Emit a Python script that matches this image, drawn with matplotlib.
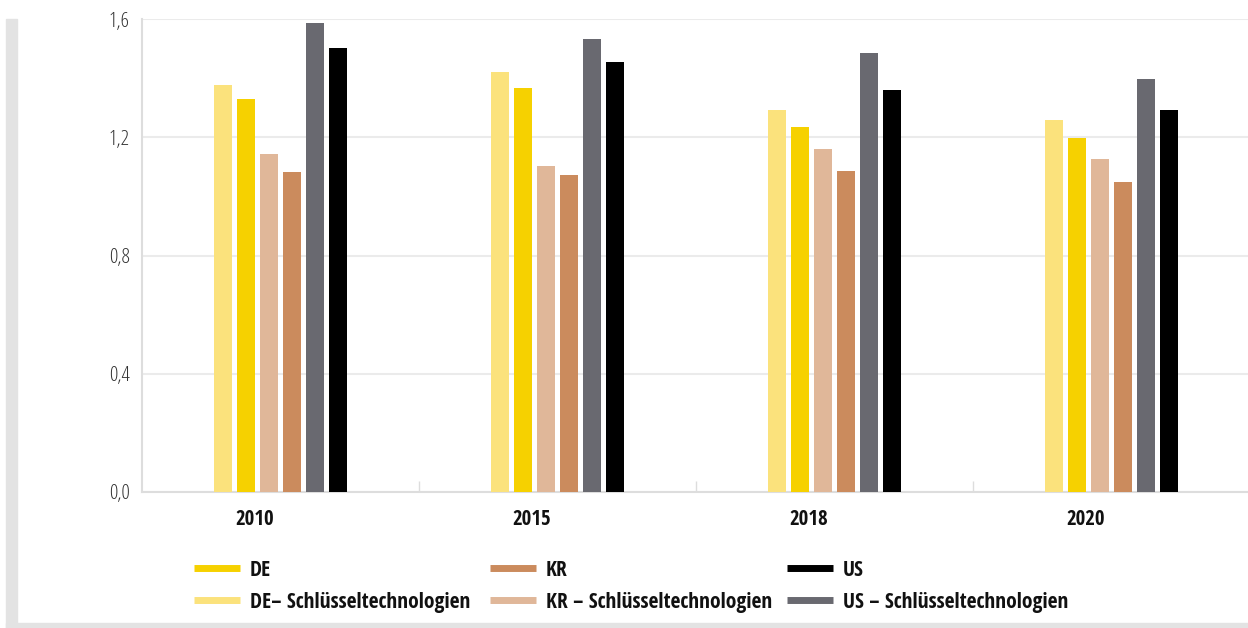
import matplotlib
matplotlib.use("Agg")
import matplotlib.pyplot as plt
import matplotlib.transforms as mtransforms
from matplotlib.lines import Line2D
from matplotlib.patches import Rectangle
import numpy as np

# Daten
years = ["2010", "2015", "2018", "2020"]
series = ["DE– Schlüsseltechnologien", "DE", "KR – Schlüsseltechnologien", "KR",
          "US – Schlüsseltechnologien", "US"]
de_key = [1.377, 1.421, 1.292, 1.258]
de = [1.329, 1.367, 1.235, 1.198]
kr_key = [1.143, 1.103, 1.160, 1.127]
kr = [1.083, 1.072, 1.086, 1.049]
us_key = [1.587, 1.532, 1.485, 1.397]
us = [1.502, 1.455, 1.360, 1.292]
yticks = [0.0, 0.4, 0.8, 1.2, 1.6]

colors = ["#FBE27C", "#F6D100", "#E0B799", "#CB8B5D", "#696970", "#000000"]
values = [de_key, de, kr_key, kr, us_key, us]

BOLD = dict(family=["Open Sans Condensed", "DejaVu Sans"], weight="bold")
LIGHT = dict(family=["Open Sans", "DejaVu Sans"], weight="light", stretch="condensed")

W, H = 1248, 628
fig = plt.figure(figsize=(W / 100, H / 100), dpi=100)
ax = fig.add_axes([142 / W, (H - 492) / H, (W - 142) / W, 473 / H])

x = np.arange(len(years))
pitch = 23 / 277
width = 18 / 277
for i, (vals, c) in enumerate(zip(values, colors)):
    ax.bar(x + (i - 2.5) * pitch, vals, width=width, color=c, zorder=3)

ax.set_xlim(-0.5, 3.5 - 2 / 277)
ax.set_ylim(0, 1.6)
ax.set_yticks(yticks)
ax.set_yticklabels([f"{v:.1f}".replace(".", ",") for v in yticks],
                   fontsize=15, color="#333333", **LIGHT)
ax.grid(axis="y", color="#EBEBEB", lw=1.5, zorder=0)
ax.set_axisbelow(True)

ax.set_xticks(x)
ax.set_xticklabels(years, fontsize=15, color="#111111", **BOLD)
ax.set_xticks([0.5, 1.5, 2.5], minor=True)
ax.tick_params(axis="x", which="major", length=0, pad=12)
ax.tick_params(axis="x", which="minor", direction="in", length=8, color="#DDDDDD", width=1)
ax.tick_params(axis="y", length=0, pad=9)

# Jahreszahlen sitzen etwas links der Gruppenmitte
shift = mtransforms.ScaledTranslation(-26 / 100, 0, fig.dpi_scale_trans)
for lbl in ax.get_xticklabels():
    lbl.set_transform(lbl.get_transform() + shift)

for s in ["top", "right"]:
    ax.spines[s].set_visible(False)
for s in ["left", "bottom"]:
    ax.spines[s].set_color("#DDDDDD")
    ax.spines[s].set_linewidth(1.5)

# grauer Rahmen
fig.patches.append(Rectangle((6 / W, 0), 11 / W, (H - 19) / H, transform=fig.transFigure,
                             color="#E3E3E3", zorder=0))
fig.patches.append(Rectangle((6 / W, 0), (W - 6) / W, 5 / H, transform=fig.transFigure,
                             color="#E3E3E3", zorder=0))

# Legende
leg_order = [1, 0, 3, 2, 5, 4]
col_x = [194, 490, 787]
row_y = [568, 600]
for k, idx in enumerate(leg_order):
    cx = col_x[k // 2]
    ry = row_y[k % 2]
    fig.add_artist(Line2D([cx / W, (cx + 46) / W], [1 - ry / H, 1 - ry / H],
                          color=colors[idx], lw=5, transform=fig.transFigure,
                          solid_capstyle="butt"))
    fig.text((cx + 56) / W, 1 - ry / H, series[idx], fontsize=15.5, color="#111111",
             va="center_baseline", ha="left", **BOLD)

fig.savefig("out.png", dpi=100)
